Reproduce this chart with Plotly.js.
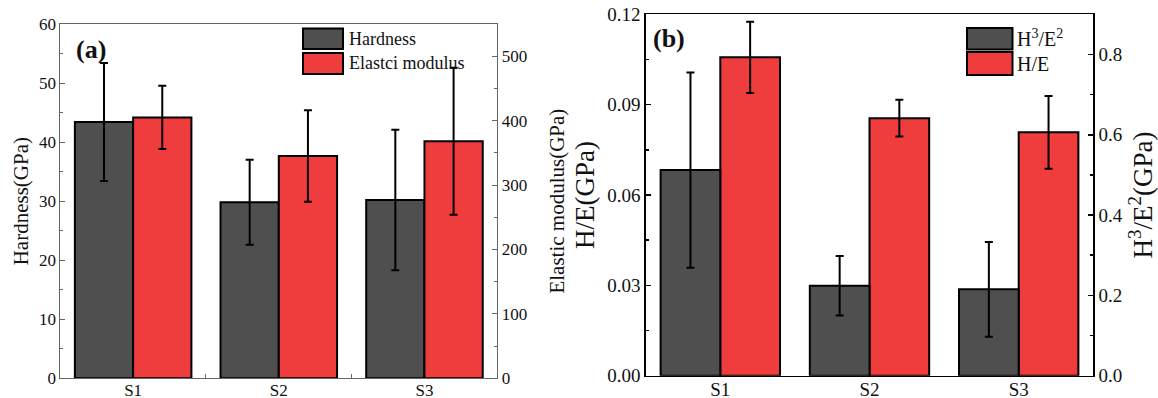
<!DOCTYPE html>
<html>
<head>
<meta charset="utf-8">
<script src="https://cdn.plot.ly/plotly-3.0.1.min.js"></script>
<style>html,body{margin:0;padding:0;background:#fff;}#chart{width:1158px;height:398px;}</style>
</head>
<body>
<div id="chart"></div>
<script>
// ---- data ----
const categories = ["S1", "S2", "S3"];
const hardness = [43.4, 29.8, 30.2];
const hardnessErr = [10.0, 7.2, 11.9];
const elasticModulus = [405, 345, 368];
const elasticModulusErr = [49, 71, 114];
const hOverE = [0.1057, 0.0855, 0.0808];
const hOverEErr = [0.0118, 0.0061, 0.0121];
const h3OverE2 = [0.512, 0.224, 0.215];
const h3OverE2Err = [0.243, 0.074, 0.118];

const W = 1158, H = 398;
const px = x => x / W;
const py = y => 1 - y / H;

const DARK = "#4f4f4f", RED = "#ef3c3c";
const FONT = "'Liberation Serif', 'Times New Roman', Times, serif";

function bar(x, y, err, color, xa, ya, offset, name) {
  return {
    type: "bar", x: x, y: y, name: name, xaxis: xa, yaxis: ya,
    width: 0.4, offset: offset, showlegend: false,
    marker: {color: color, line: {color: "#000", width: 2}},
    error_y: {type: "data", array: err, visible: true, color: "#000", thickness: 2, width: 4}
  };
}

const traces = [
  bar(categories, hardness, hardnessErr, DARK, "x", "y", -0.4, "Hardness"),
  bar(categories, elasticModulus, elasticModulusErr, RED, "x", "y2", 0, "Elastci modulus"),
  bar(categories, h3OverE2, h3OverE2Err, DARK, "x2", "y4", -0.4, "H<sup>3</sup>/E<sup>2</sup>"),
  bar(categories, hOverE, hOverEErr, RED, "x2", "y3", 0, "H/E")
];

const gA = "#666", gB = "#000";
function yax(o) {
  return Object.assign({
    ticks: "inside", ticklen: 5, tickwidth: 1, showgrid: false, zeroline: false,
    showline: true, automargin: false, fixedrange: true
  }, o);
}

const layout = {
  width: W, height: H,
  margin: {l: 0, r: 0, t: 0, b: 0},
  paper_bgcolor: "#fff", plot_bgcolor: "#fff",
  font: {family: FONT, color: "#111"},
  showlegend: false,
  xaxis: {
    domain: [px(60.3), px(497.3)], anchor: "y", range: [-0.5, 2.5], type: "category",
    showline: true, linecolor: gA, linewidth: 1, mirror: true,
    ticks: "inside", tickson: "boundaries", ticklen: 4, tickcolor: gA, ticklabelstandoff: -4,
    tickfont: {size: 17, family: FONT, color: "#111"}, showgrid: false, zeroline: false, automargin: false
  },
  yaxis: yax({
    domain: [py(378.3), py(24)], anchor: "x", range: [0, 60], dtick: 10,
    linecolor: gA, tickcolor: gA, minor: {ticks: "inside", ticklen: 3, dtick: 5, tickcolor: gA},
    tickfont: {size: 17, family: FONT, color: "#111"},
    title: {text: "Hardness(GPa)", font: {size: 21, family: FONT, color: "#111"}, standoff: 4}
  }),
  yaxis2: yax({
    overlaying: "y", side: "right", anchor: "x", range: [0, 550], dtick: 100,
    linecolor: gA, tickcolor: gA, minor: {ticks: "inside", ticklen: 3, dtick: 50, tickcolor: gA},
    tickfont: {size: 17, family: FONT, color: "#111"},
    title: {text: "Elastic modulus(GPa)", font: {size: 21, family: FONT, color: "#111"}, standoff: 23}
  }),
  xaxis2: {
    domain: [px(645.7), px(1093.3)], anchor: "y3", range: [-0.5, 2.5], type: "category",
    showline: true, linecolor: gB, linewidth: 1.5, mirror: true, ticklabelstandoff: -4,
    ticks: "", tickfont: {size: 19, family: FONT, color: "#111"}, showgrid: false, zeroline: false, automargin: false
  },
  yaxis3: yax({
    domain: [py(375.7), py(14.3)], anchor: "x2", range: [0, 0.12], dtick: 0.03, tickformat: ".2f",
    linecolor: gB, linewidth: 1.5, tickcolor: gB, tickwidth: 1.5,
    minor: {ticks: "inside", ticklen: 3, dtick: 0.015, tickcolor: gB, tickwidth: 1.5},
    tickfont: {size: 19, family: FONT, color: "#111"},
    title: {text: "H/E(GPa)", font: {size: 27, family: FONT, color: "#111"}, standoff: 4}
  }),
  yaxis4: yax({
    overlaying: "y3", side: "right", anchor: "x2", range: [0, 0.9], dtick: 0.2, tickformat: ".1f",
    linecolor: gB, linewidth: 1.5, tickcolor: gB, tickwidth: 1.5,
    minor: {ticks: "inside", ticklen: 3, dtick: 0.1, tickcolor: gB, tickwidth: 1.5},
    tickfont: {size: 19, family: FONT, color: "#111"},
    title: {text: "H<sup>3</sup>/E<sup>2</sup>(GPa)", font: {size: 27, family: FONT, color: "#111"}, standoff: 18}
  }),
  shapes: [
    {type: "rect", xref: "paper", yref: "paper", x0: px(303), x1: px(343), y0: py(49), y1: py(28.5), fillcolor: DARK, line: {color: "#000", width: 2}},
    {type: "rect", xref: "paper", yref: "paper", x0: px(303), x1: px(343), y0: py(74), y1: py(53), fillcolor: RED, line: {color: "#000", width: 2}},
    {type: "rect", xref: "paper", yref: "paper", x0: px(967), x1: px(1012.5), y0: py(49.5), y1: py(28), fillcolor: DARK, line: {color: "#000", width: 2}},
    {type: "rect", xref: "paper", yref: "paper", x0: px(967), x1: px(1012.5), y0: py(75), y1: py(52), fillcolor: RED, line: {color: "#000", width: 2}}
  ],
  annotations: [
    {text: "<b>(a)</b>", xref: "paper", yref: "paper", x: px(91), y: py(49), xanchor: "center", yanchor: "middle", showarrow: false, font: {size: 26, family: FONT, color: "#111"}},
    {text: "<b>(b)</b>", xref: "paper", yref: "paper", x: px(669), y: py(38.5), xanchor: "center", yanchor: "middle", showarrow: false, font: {size: 26, family: FONT, color: "#111"}},
    {text: "Hardness", xref: "paper", yref: "paper", x: px(347), y: py(39), xanchor: "left", yanchor: "middle", showarrow: false, font: {size: 18, family: FONT, color: "#111"}},
    {text: "Elastci modulus", xref: "paper", yref: "paper", x: px(347), y: py(63), xanchor: "left", yanchor: "middle", showarrow: false, font: {size: 18, family: FONT, color: "#111"}},
    {text: "H<sup>3</sup>/E<sup>2</sup>", xref: "paper", yref: "paper", x: px(1015), y: py(38), xanchor: "left", yanchor: "middle", showarrow: false, font: {size: 20, family: FONT, color: "#111"}},
    {text: "H/E", xref: "paper", yref: "paper", x: px(1015), y: py(64), xanchor: "left", yanchor: "middle", showarrow: false, font: {size: 20, family: FONT, color: "#111"}}
  ]
};

Plotly.newPlot("chart", traces, layout, {staticPlot: true, displayModeBar: false});
</script>
</body>
</html>
